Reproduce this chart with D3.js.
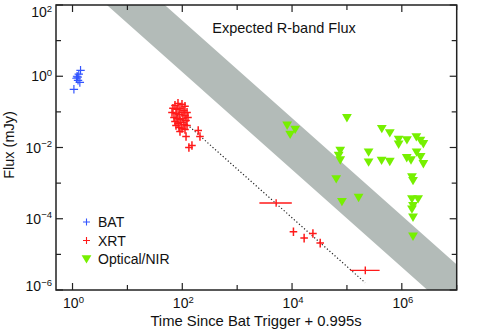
<!DOCTYPE html>
<html>
<head>
<meta charset="utf-8">
<script src="https://cdn.jsdelivr.net/npm/d3@7/dist/d3.min.js"></script>
<style>
  body { margin: 0; background: #fff; }
  svg { display: block; }
  text { font-family: "Liberation Sans", Arial, Helvetica, sans-serif; fill: #111; }
</style>
</head>
<body>
<div id="vis"></div>
<script>
// BAT points (time in s, flux in mJy)
var batTime = [1.06, 1.18, 1.21, 1.24, 1.26, 1.30, 1.36, 1.40];
var batFlux = [0.43, 0.88, 1.0, 0.95, 0.77, 1.15, 0.67, 1.47];

// XRT points, early cluster + late decay
var xrtTime = [73.6, 83.5, 98.8, 112, 67.6, 80.0, 90.8, 107, 122, 64.9,
  76.8, 87.1, 98.8, 112, 127, 70.6, 80.0, 90.8, 103, 117,
  73.6, 83.5, 94.7, 107, 122, 87.1, 98.8, 112, 76.8, 90.8,
  117, 150, 132, 195, 210,
  10600, 16600, 24000, 32600];
var xrtFlux = [0.152, 0.173, 0.163, 0.143, 0.126, 0.118, 0.126, 0.110, 0.0968, 0.0968,
  0.0907, 0.0851, 0.0968, 0.0797, 0.0700, 0.0700, 0.0656, 0.0615, 0.0656, 0.0576,
  0.0540, 0.0474, 0.0506, 0.0445, 0.0417, 0.0366, 0.0343, 0.0321, 0.0417, 0.0282,
  0.0204, 0.0114, 0.0100, 0.030, 0.0204,
  4.3e-5, 2.86e-5, 3.86e-5, 2.07e-5];

// XRT points with wide time bins
var xrtBinTime = [5130, 2.16e5];
var xrtBinLo = [2540, 1.15e5];
var xrtBinHi = [9900, 3.94e5];
var xrtBinFlux = [2.77e-4, 3.55e-6];

// Optical/NIR upper limits
var optTime = [8140, 11400, 9230, 1.0e5, 4.32e5, 6.04e5, 8.75e5, 8.75e5, 1.24e6, 1.84e6,
  2.18e6, 2.47e6, 7.55e4, 7.08e4, 7.55e4, 2.48e5, 2.48e5, 4.28e5, 6.04e5, 1.23e6,
  1.47e6, 1.86e6, 2.20e6, 2.47e6, 6.38e4, 8.11e4, 1.63e5, 1.53e6, 1.60e6, 1.53e6,
  1.98e6, 1.60e6, 1.53e6, 1.60e6, 1.60e6];
var optFlux = [0.0417, 0.0321, 0.0232, 0.0678, 0.0337, 0.0256, 0.0168, 0.0122, 0.0163, 0.0198,
  0.0157, 0.0127, 0.00823, 0.00595, 0.00445, 0.00738, 0.00386, 0.00431, 0.00403, 0.00513,
  0.00445, 0.00738, 0.00547, 0.00348, 0.00131, 3.01e-4, 3.91e-4, 0.00148, 0.00117, 3.59e-4,
  3.59e-4, 2.32e-4, 1.85e-4, 1.09e-4, 3.21e-5];

// expected R-band flux band and the XRT decay fit
var bandTime = [0.5, 1e7];
var bandUpper = [5.2e4, 5.2e-6];
var bandLower = [1.86e3, 1.86e-7];
var fitTime = [80, 2.15e5];
var fitFlux = [0.079, 1.6e-6];

var xDecades = [0, 1, 2, 3, 4, 5, 6, 7];
var yDecades = [-6, -5, -4, -3, -2, -1, 0, 1, 2];
var legendNames = ['BAT', 'XRT', 'Optical/NIR'];

var width = 485, height = 333;
var margin = {top: 5, right: 28.3, bottom: 43, left: 56};

var colors = {bat: '#3355ff', xrt: '#ff1a1a', opt: '#76f000', band: '#b3bbb8'};

var svg = d3.select('#vis').append('svg')
  .attr('width', width)
  .attr('height', height);

var x = d3.scaleLog().domain([0.5, 1e7]).range([margin.left, width - margin.right]);
var y = d3.scaleLog().domain([1e-6, 1e2]).range([height - margin.bottom, margin.top]);

svg.append('clipPath').attr('id', 'plotclip')
  .append('rect')
  .attr('x', margin.left).attr('y', margin.top)
  .attr('width', width - margin.left - margin.right)
  .attr('height', height - margin.top - margin.bottom);

var plot = svg.append('g').attr('clip-path', 'url(#plotclip)');

// grey band
var bandData = bandTime.map(function (t, i) { return {t: t, hi: bandUpper[i], lo: bandLower[i]}; });
plot.append('path')
  .datum(bandData)
  .attr('fill', colors.band)
  .attr('d', d3.area()
    .x(function (d) { return x(d.t); })
    .y0(function (d) { return y(d.lo); })
    .y1(function (d) { return y(d.hi); }));

// dotted decay fit
plot.append('path')
  .datum(fitTime.map(function (t, i) { return [t, fitFlux[i]]; }))
  .attr('fill', 'none')
  .attr('stroke', '#222')
  .attr('stroke-width', 1.2)
  .attr('stroke-dasharray', '1.2,2.2')
  .attr('d', d3.line().x(function (d) { return x(d[0]); }).y(function (d) { return y(d[1]); }));

function crossPath(cx, cy, ax, ay) {
  return 'M' + (cx - ax) + ',' + cy + 'H' + (cx + ax) + 'M' + cx + ',' + (cy - ay) + 'V' + (cy + ay);
}

// optical/NIR upper limits (down-pointing triangles)
var tri = 'M-4.9,-3.8L4.9,-3.8L0,4.6Z';
plot.selectAll('.opt')
  .data(optTime.map(function (t, i) { return [t, optFlux[i]]; }))
  .enter().append('path')
  .attr('class', 'opt')
  .attr('d', tri)
  .attr('fill', colors.opt)
  .attr('transform', function (d) { return 'translate(' + x(d[0]) + ',' + y(d[1]) + ')'; });

// BAT
plot.selectAll('.bat')
  .data(batTime.map(function (t, i) { return [t, batFlux[i]]; }))
  .enter().append('path')
  .attr('class', 'bat')
  .attr('fill', 'none')
  .attr('stroke', colors.bat)
  .attr('stroke-width', 1.2)
  .attr('d', function (d) { return crossPath(x(d[0]), y(d[1]), 4.2, 4.2); });

// XRT
plot.selectAll('.xrt')
  .data(xrtTime.map(function (t, i) { return [t, xrtFlux[i]]; }))
  .enter().append('path')
  .attr('class', 'xrt')
  .attr('fill', 'none')
  .attr('stroke', colors.xrt)
  .attr('stroke-width', 1.5)
  .attr('d', function (d) { return crossPath(x(d[0]), y(d[1]), 3.8, 4.3); });

plot.selectAll('.xrtbin')
  .data(xrtBinTime.map(function (t, i) { return {t: t, lo: xrtBinLo[i], hi: xrtBinHi[i], f: xrtBinFlux[i]}; }))
  .enter().append('path')
  .attr('class', 'xrtbin')
  .attr('fill', 'none')
  .attr('stroke', colors.xrt)
  .attr('stroke-width', 1.4)
  .attr('d', function (d) {
    var cy = y(d.f);
    return 'M' + x(d.lo) + ',' + cy + 'H' + x(d.hi) + 'M' + x(d.t) + ',' + (cy - 3.8) + 'V' + (cy + 3.8);
  });

// frame and ticks
var x0 = margin.left, x1 = width - margin.right, y0 = height - margin.bottom, y1 = margin.top;
var axes = svg.append('g').attr('stroke', '#222').attr('fill', 'none');
axes.append('rect')
  .attr('x', x0).attr('y', y1).attr('width', x1 - x0).attr('height', y0 - y1)
  .attr('stroke-width', 1.5);

xDecades.forEach(function (e) {
  var px = x(Math.pow(10, e));
  var len = e % 2 === 0 ? 7 : 5;
  axes.append('line').attr('x1', px).attr('x2', px).attr('y1', y0).attr('y2', y0 - len).attr('stroke-width', 1.2);
  axes.append('line').attr('x1', px).attr('x2', px).attr('y1', y1).attr('y2', y1 + len).attr('stroke-width', 1.2);
});
yDecades.forEach(function (e) {
  var py = y(Math.pow(10, e));
  var len = e % 2 === 0 ? 7 : 5;
  axes.append('line').attr('y1', py).attr('y2', py).attr('x1', x0).attr('x2', x0 + len).attr('stroke-width', 1.2);
  axes.append('line').attr('y1', py).attr('y2', py).attr('x1', x1).attr('x2', x1 - len).attr('stroke-width', 1.2);
});

function powerLabel(sel, e) {
  sel.append('tspan').text('10');
  sel.append('tspan').attr('font-size', 9.5).attr('dy', -5.5).text(e < 0 ? '\u2212' + (-e) : e);
}

xDecades.filter(function (e) { return e % 2 === 0; }).forEach(function (e) {
  var t = svg.append('text')
    .attr('x', x(Math.pow(10, e)) + 1)
    .attr('y', 308)
    .attr('text-anchor', 'middle')
    .attr('font-size', 14);
  powerLabel(t, e);
});
yDecades.filter(function (e) { return e % 2 === 0; }).forEach(function (e) {
  var py = Math.max(17, Math.min(291, y(Math.pow(10, e)) + 5));
  var t = svg.append('text')
    .attr('x', 52)
    .attr('y', py)
    .attr('text-anchor', 'end')
    .attr('font-size', 14);
  powerLabel(t, e);
});

// titles
svg.append('text')
  .attr('x', 284).attr('y', 33)
  .attr('text-anchor', 'middle')
  .attr('font-size', 14.5)
  .text('Expected R-band Flux');

svg.append('text')
  .attr('x', 256).attr('y', 326)
  .attr('text-anchor', 'middle')
  .attr('font-size', 14.8)
  .text('Time Since Bat Trigger + 0.995s');

svg.append('text')
  .attr('transform', 'translate(14,145) rotate(-90)')
  .attr('text-anchor', 'middle')
  .attr('font-size', 14.5)
  .text('Flux (mJy)');

// legend
var legend = svg.append('g');
legendNames.forEach(function (name, i) {
  var ly = 222 + i * 18.5;
  if (i === 2) {
    legend.append('path').attr('d', tri).attr('fill', colors.opt)
      .attr('transform', 'translate(86.5,' + ly + ')');
  } else {
    legend.append('path')
      .attr('d', crossPath(86.5, ly, 3.5, 3.5))
      .attr('stroke', i === 0 ? colors.bat : colors.xrt)
      .attr('stroke-width', 1.1)
      .attr('fill', 'none');
  }
  legend.append('text')
    .attr('x', 98).attr('y', ly + 5)
    .attr('font-size', 14)
    .text(name);
});
</script>
</body>
</html>
